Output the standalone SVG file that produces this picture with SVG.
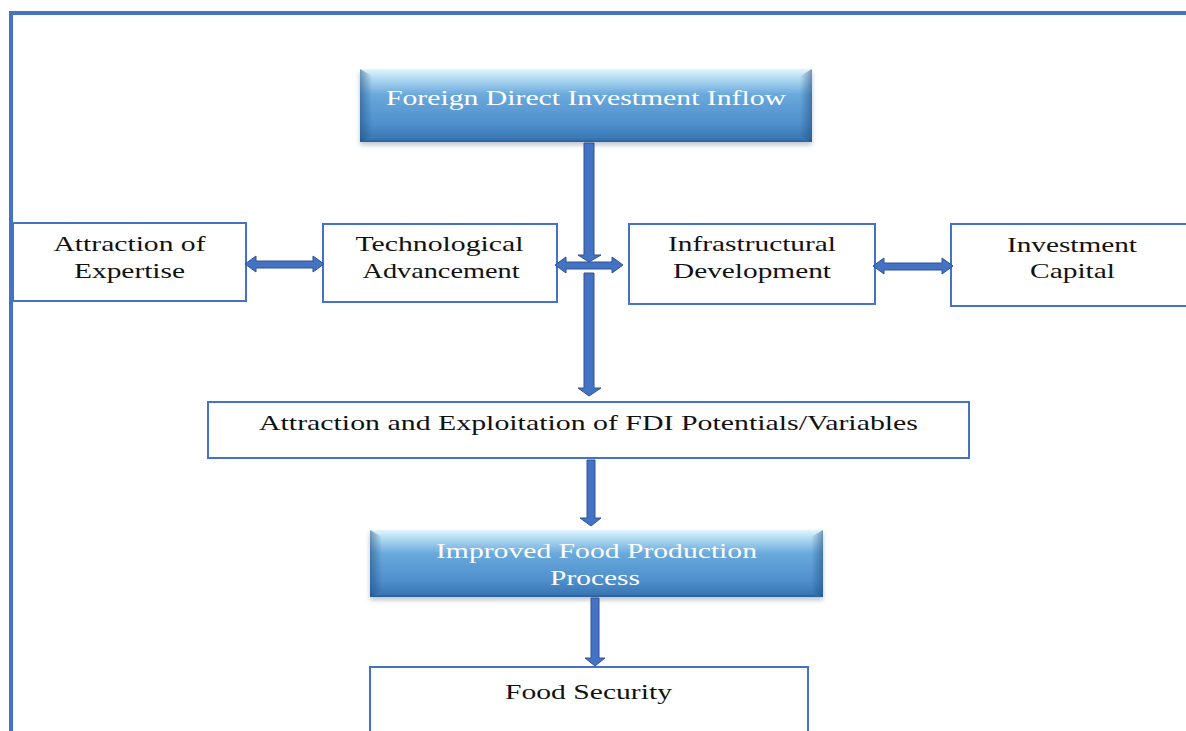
<svg xmlns="http://www.w3.org/2000/svg" width="1186" height="731" viewBox="0 0 1186 731">
  <defs>
    <linearGradient id="bevelFill" x1="0" y1="0" x2="0" y2="1">
      <stop offset="0" stop-color="#e3f5fc"/>
      <stop offset="0.12" stop-color="#b5dcf3"/>
      <stop offset="0.35" stop-color="#6aa9dc"/>
      <stop offset="0.75" stop-color="#4f8fcc"/>
      <stop offset="0.95" stop-color="#3a78b6"/>
      <stop offset="1" stop-color="#2b5f94"/>
    </linearGradient>
    <linearGradient id="edgeL" x1="0" y1="0" x2="1" y2="0">
      <stop offset="0" stop-color="#1f4f80" stop-opacity="0.55"/>
      <stop offset="1" stop-color="#1f4f80" stop-opacity="0"/>
    </linearGradient>
    <linearGradient id="edgeR" x1="1" y1="0" x2="0" y2="0">
      <stop offset="0" stop-color="#1f4f80" stop-opacity="0.55"/>
      <stop offset="1" stop-color="#1f4f80" stop-opacity="0"/>
    </linearGradient>
    <filter id="softShadow" x="-5%" y="-10%" width="110%" height="130%">
      <feDropShadow dx="0" dy="3" stdDeviation="2.5" flood-color="#6b7c8f" flood-opacity="0.45"/>
    </filter>
  </defs>
  <style>
    .box { fill: #ffffff; stroke: #4472c4; stroke-width: 2; }
    .label { font-family: "Liberation Serif", "Times New Roman", serif; font-size: 22px; fill: #111111; text-anchor: middle; }
    .label-light { font-family: "Liberation Serif", "Times New Roman", serif; font-size: 22px; fill: #ffffff; text-anchor: middle; }
    .arrow { fill: #4472c4; stroke: #2f528f; stroke-width: 1; stroke-linejoin: miter; }
    .frame { fill: none; stroke: #4472c4; stroke-width: 4; }
  </style>

  <rect width="1186" height="731" fill="#ffffff"/>

  <!-- page frame -->
  <path class="frame" d="M11,731 V13 H1186"/>

  <!-- source node -->
  <g id="fdi-inflow">
    <g filter="url(#softShadow)">
      <rect x="360" y="69" width="452" height="73" fill="url(#bevelFill)"/>
    </g>
    <polygon points="360,69 372,76 372,136 360,142" fill="url(#edgeL)"/>
    <polygon points="812,69 800,76 800,136 812,142" fill="url(#edgeR)"/>
    <text class="label-light" x="586" y="105" textLength="400" lengthAdjust="spacingAndGlyphs">Foreign Direct Investment Inflow</text>
  </g>

  <g id="attraction-expertise">
    <rect class="box" x="13" y="223" width="233" height="78"/>
    <text class="label" x="129.5" y="251" textLength="152" lengthAdjust="spacingAndGlyphs">Attraction of</text>
    <text class="label" x="129.5" y="278" textLength="111" lengthAdjust="spacingAndGlyphs">Expertise</text>
  </g>

  <g id="tech-advancement">
    <rect class="box" x="323" y="224" width="234" height="78"/>
    <text class="label" x="439.5" y="251" textLength="168" lengthAdjust="spacingAndGlyphs">Technological</text>
    <text class="label" x="441" y="278" textLength="157" lengthAdjust="spacingAndGlyphs">Advancement</text>
  </g>

  <g id="infra-development">
    <rect class="box" x="629" y="224" width="246" height="80"/>
    <text class="label" x="752" y="251" textLength="168" lengthAdjust="spacingAndGlyphs">Infrastructural</text>
    <text class="label" x="752" y="278" textLength="158" lengthAdjust="spacingAndGlyphs">Development</text>
  </g>

  <g id="investment-capital">
    <rect class="box" x="951" y="224" width="245" height="82"/>
    <text class="label" x="1072" y="252" textLength="130" lengthAdjust="spacingAndGlyphs">Investment</text>
    <text class="label" x="1072.5" y="278" textLength="85" lengthAdjust="spacingAndGlyphs">Capital</text>
  </g>

  <g id="fdi-potentials">
    <rect class="box" x="208" y="402" width="761" height="56"/>
    <text class="label" x="588.5" y="430" textLength="659" lengthAdjust="spacingAndGlyphs">Attraction and Exploitation of FDI Potentials/Variables</text>
  </g>

  <g id="food-production">
    <g filter="url(#softShadow)">
      <rect x="370" y="530" width="453" height="67" fill="url(#bevelFill)"/>
    </g>
    <polygon points="370,530 382,537 382,591 370,597" fill="url(#edgeL)"/>
    <polygon points="823,530 811,537 811,591 823,597" fill="url(#edgeR)"/>
    <text class="label-light" x="596.5" y="558" textLength="321" lengthAdjust="spacingAndGlyphs">Improved Food Production</text>
    <text class="label-light" x="595" y="585" textLength="90" lengthAdjust="spacingAndGlyphs">Process</text>
  </g>

  <g id="food-security">
    <rect class="box" x="370" y="667" width="438" height="80"/>
    <text class="label" x="588.5" y="699" textLength="167" lengthAdjust="spacingAndGlyphs">Food Security</text>
  </g>

  <!-- connectors -->
  <g id="connectors">
    <!-- inflow down to the junction -->
    <polygon class="arrow" points="584,143 594,143 594,255 601,255 589,262 578,255 584,255"/>
    <!-- junction double arrow -->
    <polygon class="arrow" points="555,265 566,257 566,262 612,262 612,257 623,265 612,273 612,269 566,269 566,273"/>
    <!-- junction down to potentials -->
    <polygon class="arrow" points="584,273 594,273 594,388 601,388 589,396 578,388 584,388"/>
    <!-- expertise <-> technology -->
    <polygon class="arrow" points="245,264 256,256 256,261 313,261 313,256 324,264 313,272 313,268 256,268 256,272"/>
    <!-- infrastructure <-> capital -->
    <polygon class="arrow" points="873,266 884,258 884,263 942,263 942,258 953,266 942,274 942,270 884,270 884,274"/>
    <!-- potentials down to food production -->
    <polygon class="arrow" points="587,460 595,460 595,518 601,518 591,526 580,518 587,518"/>
    <!-- food production down to food security -->
    <polygon class="arrow" points="591,598 599,598 599,658 605,658 595,666 585,658 591,658"/>
  </g>
</svg>
